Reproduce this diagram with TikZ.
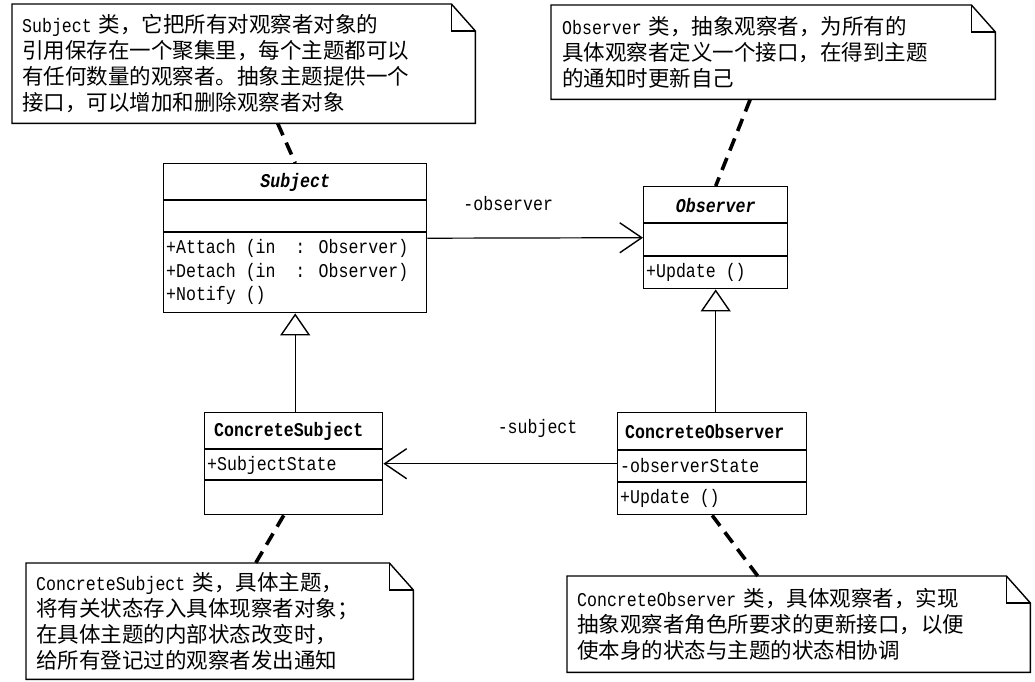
\documentclass[tikz,border=0pt]{standalone}
\usepackage{fontspec}
\setmainfont{Liberation Mono}[FakeStretch=0.85]
\newfontfamily\cjk{Noto Sans CJK SC}
\usetikzlibrary{arrows.meta,calc}
\newcommand\latword[1]{{\rmfamily\fontsize{19.5}{26}\selectfont #1}}
\tikzset{
  notebox/.style={draw=none, anchor=north west, inner xsep=10pt, inner ysep=0pt, align=left,
    font=\cjk\fontsize{21.5}{26}\selectfont},
  classbox/.style={draw, line width=1.4pt, anchor=north west, inner sep=0pt},
  sepline/.style={line width=1.4pt},
  notelink/.style={line width=3.6pt, dash pattern=on 13pt off 8pt},
  member/.style={anchor=west, inner sep=0pt, align=left, font=\fontsize{19.5}{23.5}\selectfont},
  cname/.style={inner sep=0pt, font=\bfseries\fontsize{19.5}{22}\selectfont},
  assoc/.style={line width=1.2pt, -{Straight Barb[length=22pt, width=30pt, line width=1.4pt]}},
  inherit/.style={line width=1.2pt, -{Triangle[open, length=22pt, width=30pt, line width=1.4pt, fill=white]}},
  lbl/.style={inner sep=0pt, font=\fontsize{19.5}{22}\selectfont},
  fold/.style={line width=1.4pt}
}
\newcommand\notefold[1]{%
  \draw[fold] (#1.north west) -- ([xshift=-24pt]#1.north east) -- ([yshift=-27pt]#1.north east)
     -- (#1.south east) -- (#1.south west) -- cycle;
  \draw[fold] ([xshift=-24pt]#1.north east) -- ([xshift=-24pt,yshift=-27pt]#1.north east)
     -- ([yshift=-27pt]#1.north east);}
\begin{document}
\begin{tikzpicture}[x=1pt, y=-1pt]
\useasboundingbox[fill=white] (0,0) rectangle (1035,681);

% ---------- notes ----------
\node[notebox, text width=443pt, minimum height=119pt] (n1) at (12,4)
 {\latword{Subject} 类，它把所有对观察者对象的\\
  引用保存在一个聚集里，每个主题都可以\\
  有任何数量的观察者。抽象主题提供一个\\
  接口，可以增加和删除观察者对象};
\notefold{n1}

\node[notebox, inner xsep=11pt, text width=422pt, minimum height=94pt] (n2) at (551,5)
 {\latword{Observer} 类，抽象观察者，为所有的\\
  具体观察者定义一个接口，在得到主题\\
  的通知时更新自己};
\notefold{n2}

\node[notebox, text width=367pt, minimum height=116pt] (n3) at (26,563)
 {\latword{ConcreteSubject} 类，具体主题，\\
  将有关状态存入具体现察者对象；\\
  在具体主题的内部状态改变时，\\
  给所有登记过的观察者发出通知};
\notefold{n3}

\node[notebox, text width=443pt, minimum height=96pt] (n4) at (567,576)
 {\latword{ConcreteObserver} 类，具体观察者，实现\\
  抽象观察者角色所要求的更新接口，以便\\
  使本身的状态与主题的状态相协调};
\notefold{n4}

% ---------- Subject ----------
\node[classbox, minimum width=263pt, minimum height=149pt] (S) at (163,163) {};
\draw[sepline] ([yshift=-37pt]S.north west) -- ([yshift=-37pt]S.north east);
\draw[sepline] ([yshift=-69pt]S.north west) -- ([yshift=-69pt]S.north east);
\node[cname, font=\bfseries\itshape\fontsize{19.5}{22}\selectfont] (Sn) at ([yshift=-19pt]S.north) {Subject};
\node[member] (Sm) at ([xshift=3pt, yshift=-109pt]S.north west)
 {+Attach (in\ \ : Observer)\\+Detach (in\ \ : Observer)\\+Notify ()};

% ---------- Observer ----------
\node[classbox, minimum width=144pt, minimum height=102pt] (O) at (643,186) {};
\draw[sepline] ([yshift=-37pt]O.north west) -- ([yshift=-37pt]O.north east);
\draw[sepline] ([yshift=-70pt]O.north west) -- ([yshift=-70pt]O.north east);
\node[cname, font=\bfseries\itshape\fontsize{19.5}{22}\selectfont] (On) at ([yshift=-20pt]O.north) {Observer};
\node[member] (Om) at ([xshift=3pt, yshift=-86pt]O.north west) {+Update ()};

% ---------- ConcreteSubject ----------
\node[classbox, minimum width=178pt, minimum height=102pt] (CS) at (204,412) {};
\draw[sepline] ([yshift=-37pt]CS.north west) -- ([yshift=-37pt]CS.north east);
\draw[sepline] ([yshift=-68pt]CS.north west) -- ([yshift=-68pt]CS.north east);
\node[cname, anchor=west] (CSn) at ([xshift=10pt, yshift=-19pt]CS.north west) {ConcreteSubject};
\node[member] (CSm) at ([xshift=3pt, yshift=-53pt]CS.north west) {+SubjectState};

% ---------- ConcreteObserver ----------
\node[classbox, minimum width=189pt, minimum height=102pt] (CO) at (617,412) {};
\draw[sepline] ([yshift=-38pt]CO.north west) -- ([yshift=-38pt]CO.north east);
\draw[sepline] ([yshift=-70pt]CO.north west) -- ([yshift=-70pt]CO.north east);
\node[cname, anchor=west] (COn) at ([xshift=8pt, yshift=-20pt]CO.north west) {ConcreteObserver};
\node[member] (COm) at ([xshift=3pt, yshift=-54pt]CO.north west) {-observerState};
\node[member] (COo) at ([xshift=3pt, yshift=-86pt]CO.north west) {+Update ()};

% ---------- connectors ----------
\draw[assoc] (S.east) -- (O.west)
  node[lbl, pos=0.375, yshift=34pt] (lobs) {-observer};
\draw[assoc] (CO.west) -- (CS.east)
  node[lbl, pos=0.34, yshift=35pt] (lsub) {-subject};
\draw[inherit] (CS.north -| S.south) -- (S.south);
\draw[inherit] (CO.north -| O.south) -- (O.south);

\draw[notelink] ([xshift=34pt]n1.south) -- (S.north);
\draw[notelink] ([xshift=-23pt]n2.south) -- (O.north);
\draw[notelink] ([xshift=-10pt]CS.south) -- ([xshift=36pt]n3.north);
\draw[notelink] (CO.south) -- ([xshift=-41pt]n4.north);
\end{tikzpicture}
\end{document}
